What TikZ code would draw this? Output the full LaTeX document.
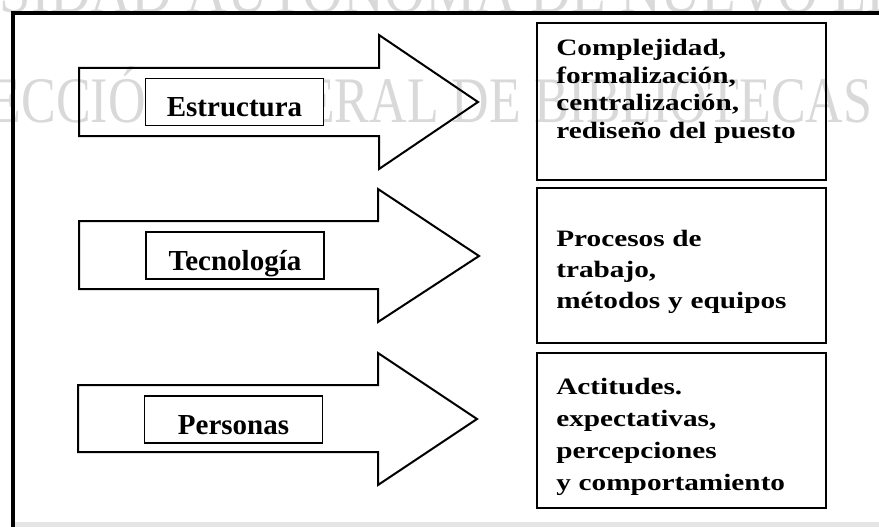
\documentclass[tikz,border=0pt]{standalone}
\usepackage{fontspec}
\setmainfont{Liberation Serif}
\newfontfamily\cajafont{Liberation Serif}[FakeStretch=1.245]
\newfontfamily\marcafont{Liberation Serif}[FakeStretch=0.8]
\newfontfamily\marcabfont{Liberation Serif}[FakeStretch=0.87]
\usepackage{tikz}
\usetikzlibrary{positioning}
\tikzstyle{marco} = [line width=3.5pt]
\tikzstyle{flecha} = [draw=black, line width=2pt, line join=miter]
\tikzstyle{etiq} = [draw=black, fill=white, line width=1.8pt, minimum width=178pt, minimum height=47pt, inner sep=0pt, text height=30pt, text depth=0pt, font={\fontsize{29}{29}\selectfont\bfseries}]
\tikzstyle{caja} = [draw=black, line width=1.8pt, minimum width=289pt, inner sep=0pt]
\tikzstyle{marca} = [color=black!15, inner sep=0pt, anchor=base west, font={\marcafont\fontsize{65}{65}\selectfont}]
\tikzset{texto/.style={align=left, text width=260pt, inner sep=0pt, font={\cajafont\bfseries\fontsize{23.5}{#1}\selectfont}}}

\begin{document}
\begin{tikzpicture}[x=1pt, y=-1pt]
    \useasboundingbox (0,0) rectangle (879,527);
    \begin{scope}
      \clip (0,0) rectangle (879,527);
      \node[marca, font={\marcabfont\fontsize{65}{65}\selectfont}](m1) at (-214,13){UNIVERSIDAD AUTÓNOMA DE NUEVO LEÓN};
      \node[marca](m2) at (-100,123){DIRECCIÓN GENERAL DE BIBLIOTECAS};
    \end{scope}
    \fill[black!10] (15,522) rectangle (879,527);
    \draw[marco] (11,13) -- (879,13);
    \draw[marco] (13,11) -- (13,527);
    % flechas
    \draw[flecha] (79,68) -- (379,68) -- (379,35) -- (478,102) -- (379,169) -- (379,136) -- (79,136) -- cycle;
    \draw[flecha] (79,221) -- (378,221) -- (378,189) -- (479,256) -- (378,322) -- (378,289) -- (79,289) -- cycle;
    \draw[flecha] (78,385) -- (378,385) -- (378,353) -- (477,419) -- (378,485) -- (378,452) -- (78,452) -- cycle;
    \node[etiq](e1) at (234.5,102){Estructura};
    \node[etiq](e2) at (235,255.5){Tecnología};
    \node[etiq](e3) at (233.5,419.5){Personas};
    % cajas
    \node[caja, minimum height=157pt](c1) at (681.5,101.5){};
    \node[caja, minimum height=155pt](c2) at (681.5,265.5){};
    \node[caja, minimum height=155pt](c3) at (681.5,430.5){};
    \node[texto=27.5pt, below right=17pt and 20pt of c1.north west](t1){Complejidad,\\formalización,\\centralización,\\rediseño del puesto};
    \node[texto=31pt, below right=43pt and 20pt of c2.north west](t2){Procesos de\\trabajo,\\métodos y equipos};
    \node[texto=32pt, below right=26pt and 20pt of c3.north west](t3){Actitudes.\\expectativas,\\percepciones\\y comportamiento};
  \end{tikzpicture}
\end{document}
